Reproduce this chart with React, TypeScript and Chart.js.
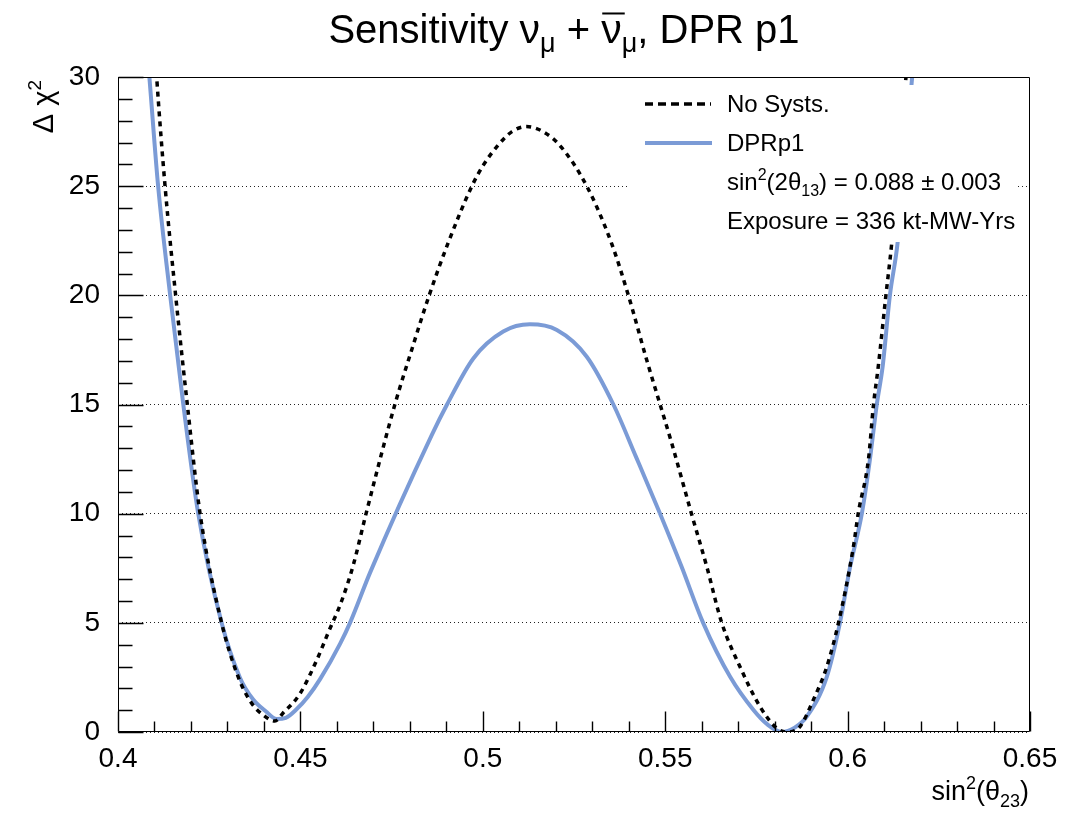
import React, { useEffect, useRef } from 'react';
import { Chart, registerables } from 'chart.js';

Chart.register(...registerables);

// ---------- data ----------
const noSystX = [0.4095, 0.4106, 0.4129, 0.4158, 0.4190, 0.4225, 0.4284, 0.4330, 0.4365, 0.4400, 0.4430, 0.4452, 0.4499, 0.4545, 0.4576, 0.4613, 0.4645, 0.4680, 0.4759, 0.4805, 0.4853, 0.4905, 0.4970, 0.5001, 0.5038, 0.5080, 0.5120, 0.5165, 0.5212, 0.5285, 0.5353, 0.5399, 0.5450, 0.5486, 0.5518, 0.5572, 0.5614, 0.5655, 0.5705, 0.5760, 0.5806, 0.5833, 0.5869, 0.5906, 0.5943, 0.5975, 0.6016, 0.6029, 0.6057, 0.6071, 0.6084, 0.6105, 0.6121, 0.6160, 0.6170];
const noSystY = [33, 30, 25, 20, 15, 10, 5, 2.5, 1.35, 0.75, 0.5, 0.86, 1.76, 3.3, 4.54, 6.0, 7.65, 10, 15, 17.5, 20, 22.4, 25, 25.95, 26.8, 27.5, 27.73, 27.5, 26.85, 25, 22.38, 20, 17.0, 15, 13.22, 10, 7.57, 5, 2.99, 1.16, 0.17, 0.0, 0.24, 1.47, 2.99, 5, 8.49, 10, 12.46, 15, 16.73, 20, 22.4, 30, 32];

const dprX = [0.4076, 0.4086, 0.4110, 0.4143, 0.4179, 0.4220, 0.4284, 0.4334, 0.4370, 0.4405, 0.4435, 0.4460, 0.4490, 0.4520, 0.4554, 0.4609, 0.4636, 0.4691, 0.4860, 0.4902, 0.4974, 0.5056, 0.5129, 0.5203, 0.5285, 0.5358, 0.5420, 0.5486, 0.5545, 0.5604, 0.5678, 0.5742, 0.5780, 0.5819, 0.5855, 0.5888, 0.5943, 0.5979, 0.6007, 0.6039, 0.6061, 0.6080, 0.6096, 0.6116, 0.6137, 0.6177, 0.6185];
const dprY = [32, 30, 25, 20, 15, 10, 5, 2.5, 1.5, 0.95, 0.6, 0.65, 1.05, 1.6, 2.42, 4.05, 5, 7.3, 13.6, 15, 17.11, 18.34, 18.67, 18.41, 17.19, 15, 12.6, 10, 7.57, 5, 2.53, 1.01, 0.35, 0.0, 0.2, 0.7, 2.53, 5, 7.57, 10, 12.46, 15, 16.73, 20, 22.4, 30, 31.5];

const xTickValues = [0.4, 0.45, 0.5, 0.55, 0.6, 0.65];
const xTickLabels = ['0.4', '0.45', '0.5', '0.55', '0.6', '0.65'];
const yTickValues = [0, 5, 10, 15, 20, 25, 30];
const yTickLabels = ['0', '5', '10', '15', '20', '25', '30'];

const seriesNames = ['No Systs.', 'DPRp1'];
const infoLine1 = { pre: 'sin', sup: '2', mid: '(2θ', sub: '13', post: ') = 0.088 ± 0.003' };
const infoLine2 = 'Exposure = 336 kt-MW-Yrs';

const FAM = '"Liberation Sans", Arial, Helvetica, sans-serif';
const BLUE = '#7b9bd6';

type Part = { t: string; s: number; dy?: number; over?: boolean };

function richWidth(ctx: CanvasRenderingContext2D, parts: Part[]) {
  let w = 0;
  for (const p of parts) {
    ctx.font = `${p.s}px ${FAM}`;
    w += ctx.measureText(p.t).width;
  }
  return w;
}

function drawRich(ctx: CanvasRenderingContext2D, parts: Part[], x: number, y: number, align: 'left' | 'center' | 'right') {
  const w = richWidth(ctx, parts);
  let cx = align === 'left' ? x : align === 'center' ? x - w / 2 : x - w;
  ctx.textAlign = 'left';
  ctx.textBaseline = 'alphabetic';
  for (const p of parts) {
    ctx.font = `${p.s}px ${FAM}`;
    const pw = ctx.measureText(p.t).width;
    ctx.fillText(p.t, cx, y + (p.dy || 0));
    if (p.over) {
      ctx.fillRect(cx + 1, y - p.s * 0.72 - 1, pw + 2, 2);
    }
    cx += pw;
  }
}

const decorPlugin = {
  id: 'rootDecor',
  beforeDraw(chart: any) {
    const ctx = chart.ctx;
    ctx.save();
    ctx.fillStyle = '#fff';
    ctx.fillRect(0, 0, chart.width, chart.height);
    ctx.restore();
  },
  afterDatasetsDraw(chart: any) {
    const ctx: CanvasRenderingContext2D = chart.ctx;
    ctx.save();
    // legend box
    ctx.fillStyle = '#fff';
    ctx.fillRect(627, 85, 391, 157);
    // entries
    ctx.strokeStyle = '#000';
    ctx.lineWidth = 3.5;
    ctx.setLineDash([8, 5]);
    ctx.beginPath();
    ctx.moveTo(645, 104);
    ctx.lineTo(711, 104);
    ctx.stroke();
    ctx.setLineDash([]);
    ctx.strokeStyle = BLUE;
    ctx.lineWidth = 4;
    ctx.beginPath();
    ctx.moveTo(645, 143);
    ctx.lineTo(712, 143);
    ctx.stroke();
    ctx.fillStyle = '#000';
    drawRich(ctx, [{ t: seriesNames[0], s: 24 }], 727, 112, 'left');
    drawRich(ctx, [{ t: seriesNames[1], s: 24 }], 727, 151, 'left');
    drawRich(ctx, [
      { t: infoLine1.pre, s: 24 },
      { t: infoLine1.sup, s: 16, dy: -10 },
      { t: infoLine1.mid, s: 24 },
      { t: infoLine1.sub, s: 16, dy: 6 },
      { t: infoLine1.post, s: 24 },
    ], 727, 190, 'left');
    drawRich(ctx, [{ t: infoLine2, s: 24 }], 727, 229, 'left');
    ctx.restore();
  },
  afterDraw(chart: any) {
    const ctx: CanvasRenderingContext2D = chart.ctx;
    const { left, right, top, bottom } = chart.chartArea;
    const xs = chart.scales.x;
    const ys = chart.scales.y;
    ctx.save();
    ctx.strokeStyle = '#000';
    ctx.lineWidth = 1;
    ctx.setLineDash([]);
    const L = Math.round(left) + 0.5, R = Math.round(right) - 0.5, T = Math.round(top) + 0.5, B = Math.round(bottom) - 0.5;
    ctx.beginPath();
    ctx.moveTo(L, T); ctx.lineTo(R, T); ctx.lineTo(R, B); ctx.lineTo(L, B); ctx.closePath();
    ctx.stroke();
    // y ticks
    ctx.lineWidth = 1.4;
    ctx.beginPath();
    for (let v = 0; v <= 30; v++) {
      const py = Math.round(ys.getPixelForValue(v)) + 0.5;
      const len = v % 5 === 0 ? 25 : 14;
      ctx.moveTo(L, py); ctx.lineTo(L + len, py);
    }
    // x ticks
    for (let i = 0; i <= 25; i++) {
      const v = 0.4 + i * 0.01;
      const px = Math.round(xs.getPixelForValue(v)) + 0.5;
      const len = i % 5 === 0 ? 20 : 10;
      ctx.moveTo(px, B); ctx.lineTo(px, B - len);
    }
    ctx.stroke();

    ctx.fillStyle = '#000';
    // title
    drawRich(ctx, [
      { t: 'Sensitivity ', s: 40 },
      { t: 'ν', s: 41 },
      { t: 'μ', s: 27, dy: 9 },
      { t: ' + ', s: 40 },
      { t: 'ν', s: 41, over: true },
      { t: 'μ', s: 27, dy: 9 },
      { t: ', DPR p1', s: 40 },
    ], 564, 43, 'center');
    // x title
    drawRich(ctx, [
      { t: 'sin', s: 27 },
      { t: '2', s: 18, dy: -11 },
      { t: '(θ', s: 27 },
      { t: '23', s: 18, dy: 7 },
      { t: ')', s: 27 },
    ], 1029, 800, 'right');
    // y title
    ctx.translate(53, 80);
    ctx.rotate(-Math.PI / 2);
    drawRich(ctx, [
      { t: 'Δ χ', s: 29 },
      { t: '2', s: 19, dy: -12 },
    ], 0, 0, 'right');
    ctx.restore();
  },
};

export default function App() {
  const ref = useRef<HTMLCanvasElement>(null);
  useEffect(() => {
    const noSyst = noSystX.map((x, i) => ({ x, y: noSystY[i] }));
    const dpr = dprX.map((x, i) => ({ x, y: dprY[i] }));
    const chart = new Chart(ref.current as HTMLCanvasElement, {
      type: 'line',
      data: {
        datasets: [
          {
            label: seriesNames[0],
            data: noSyst,
            borderColor: '#000',
            borderWidth: 3.5,
            borderDash: [5, 5],
            pointRadius: 0,
            fill: false,
            cubicInterpolationMode: 'monotone',
            clip: 0,
            order: 0,
          },
          {
            label: seriesNames[1],
            data: dpr,
            borderColor: BLUE,
            borderWidth: 4,
            pointRadius: 0,
            fill: false,
            cubicInterpolationMode: 'monotone',
            clip: 0,
            order: 1,
          },
        ],
      },
      options: {
        animation: false,
        responsive: false,
        devicePixelRatio: 1,
        layout: { padding: { left: 0, right: 51, top: 77, bottom: 0 } },
        plugins: {
          legend: { display: false },
          title: { display: false },
          tooltip: { enabled: false },
        },
        scales: {
          x: {
            type: 'linear',
            min: 0.4,
            max: 0.65,
            afterBuildTicks: (s: any) => { s.ticks = xTickValues.map((v) => ({ value: v })); },
            afterFit: (s: any) => { s.height = 81; },
            ticks: {
              callback: (_v: any, i: number) => xTickLabels[i],
              font: { family: FAM, size: 28 },
              color: '#000',
              padding: 10,
              maxRotation: 0,
              autoSkip: false,
            },
            grid: { display: false, drawTicks: false },
            border: { display: false },
          },
          y: {
            type: 'linear',
            min: 0,
            max: 30,
            afterBuildTicks: (s: any) => { s.ticks = yTickValues.map((v) => ({ value: v })); },
            afterFit: (s: any) => { s.width = 118; },
            ticks: {
              callback: (_v: any, i: number) => yTickLabels[i],
              font: { family: FAM, size: 28 },
              color: '#000',
              padding: 18,
              autoSkip: false,
            },
            grid: { display: true, drawTicks: false, color: '#222', lineWidth: 1 },
            border: { display: false, dash: [1, 3] },
          },
        },
      },
      plugins: [decorPlugin],
    } as any);
    return () => chart.destroy();
  }, []);
  return (
    <div style={{ position: 'fixed', left: 0, top: 0, width: 1081, height: 813, background: '#fff' }}>
      <canvas ref={ref} width={1081} height={813} style={{ display: 'block', width: 1081, height: 813 }} />
    </div>
  );
}
